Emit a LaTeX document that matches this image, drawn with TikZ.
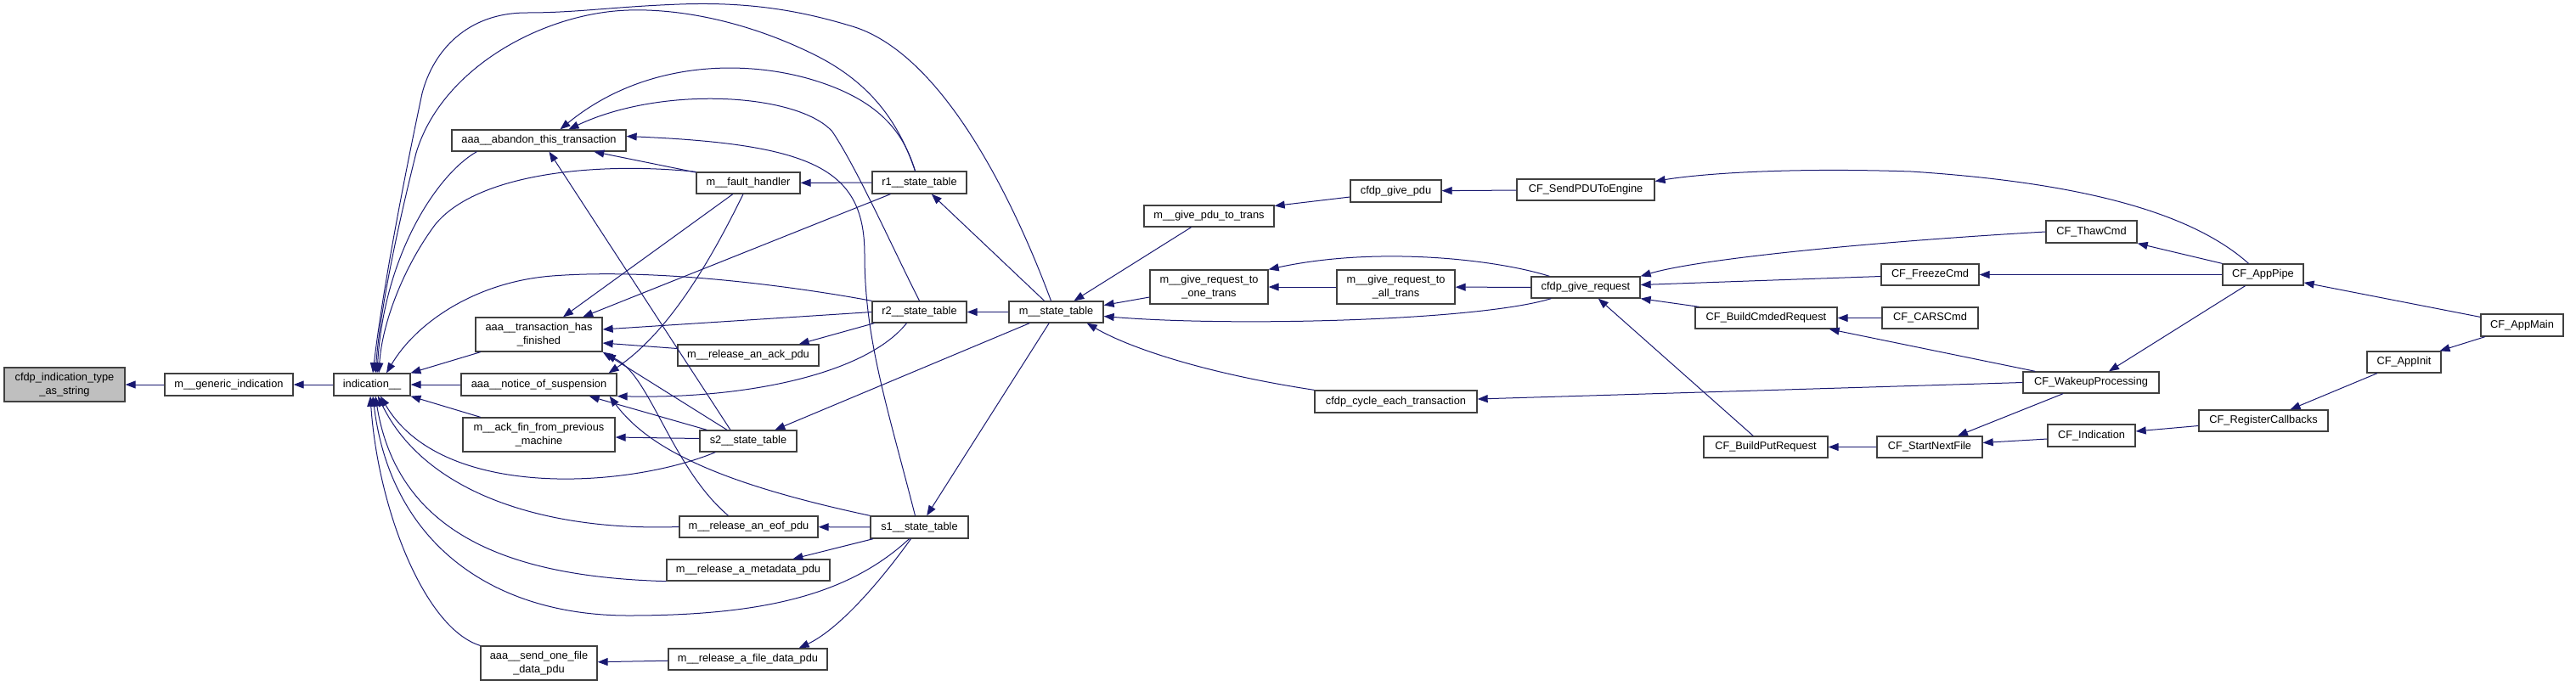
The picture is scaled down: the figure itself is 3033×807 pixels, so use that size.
\documentclass[tikz,border=0pt]{standalone}
\usepackage{fontspec}
\setmainfont{Liberation Sans}
\usetikzlibrary{arrows.meta}
\definecolor{edgec}{RGB}{25,25,112}
\definecolor{boxc}{RGB}{64,64,64}
\definecolor{grayfill}{RGB}{191,191,191}
\tikzset{
 box/.style={draw=boxc, line width=1.3pt, fill=white, inner sep=0pt, align=center, font=\fontsize{12.8}{15.5}\selectfont, text=black},
 edge/.style={draw=edgec, line width=1pt, -{Triangle[length=12pt,width=9pt]}}
}
\begin{document}
\begin{tikzpicture}[x=1pt,y=-1pt]
\useasboundingbox (0,0) rectangle (3033,807);
\node[box,fill=grayfill,minimum width=142pt,minimum height=40pt] (tstr) at (76,453) {cfdp\_indication\_type\\\_as\_string};
\node[box,minimum width=151pt,minimum height=26pt] (gen) at (269.5,453) {m\_\_generic\_indication};
\node[box,minimum width=90pt,minimum height=26pt] (ind) at (438,453) {indication\_\_};
\node[box,minimum width=205pt,minimum height=25pt] (aband) at (634.5,165.5) {aaa\_\_abandon\_this\_transaction};
\node[box,minimum width=122pt,minimum height=25pt] (fault) at (881,215.5) {m\_\_fault\_handler};
\node[box,minimum width=149pt,minimum height=40pt] (txfin) at (634.5,394) {aaa\_\_transaction\_has\\\_finished};
\node[box,minimum width=166pt,minimum height=25pt] (ackpdu) at (881,418.5) {m\_\_release\_an\_ack\_pdu};
\node[box,minimum width=183pt,minimum height=26pt] (notice) at (634.5,453) {aaa\_\_notice\_of\_suspension};
\node[box,minimum width=179pt,minimum height=40pt] (ackfin) at (634.5,512) {m\_\_ack\_fin\_from\_previous\\\_machine};
\node[box,minimum width=114pt,minimum height=25pt] (s2) at (881,519.5) {s2\_\_state\_table};
\node[box,minimum width=163pt,minimum height=25pt] (eof) at (881.5,620.5) {m\_\_release\_an\_eof\_pdu};
\node[box,minimum width=192pt,minimum height=25pt] (meta) at (881,671.5) {m\_\_release\_a\_metadata\_pdu};
\node[box,minimum width=137pt,minimum height=40pt] (sendone) at (634.5,781) {aaa\_\_send\_one\_file\\\_data\_pdu};
\node[box,minimum width=187pt,minimum height=25pt] (filedata) at (880.5,776.5) {m\_\_release\_a\_file\_data\_pdu};
\node[box,minimum width=111pt,minimum height=26pt] (r1) at (1082.5,215) {r1\_\_state\_table};
\node[box,minimum width=111pt,minimum height=25pt] (r2) at (1082.5,367.5) {r2\_\_state\_table};
\node[box,minimum width=111pt,minimum height=25pt] (mst) at (1243.5,367.5) {m\_\_state\_table};
\node[box,minimum width=153pt,minimum height=25pt] (gpdu) at (1423.5,254.5) {m\_\_give\_pdu\_to\_trans};
\node[box,minimum width=139pt,minimum height=40pt] (gone) at (1423.5,338) {m\_\_give\_request\_to\\\_one\_trans};
\node[box,minimum width=115pt,minimum height=26pt] (s1) at (1082.5,621) {s1\_\_state\_table};
\node[box,minimum width=107pt,minimum height=26pt] (cgpdu) at (1643.5,225) {cfdp\_give\_pdu};
\node[box,minimum width=162pt,minimum height=25pt] (send) at (1867,223.5) {CF\_SendPDUToEngine};
\node[box,minimum width=139pt,minimum height=40pt] (gall) at (1643.5,338) {m\_\_give\_request\_to\\\_all\_trans};
\node[box,minimum width=128pt,minimum height=25pt] (cgreq) at (1867,338.5) {cfdp\_give\_request};
\node[box,minimum width=191pt,minimum height=26pt] (cycle) at (1643.5,473) {cfdp\_cycle\_each\_transaction};
\node[box,minimum width=107pt,minimum height=26pt] (thaw) at (2462.5,273) {CF\_ThawCmd};
\node[box,minimum width=115pt,minimum height=25pt] (freeze) at (2272.5,323.5) {CF\_FreezeCmd};
\node[box,minimum width=167pt,minimum height=25pt] (bcmd) at (2079.5,374.5) {CF\_BuildCmdedRequest};
\node[box,minimum width=113pt,minimum height=25pt] (cars) at (2272.5,374.5) {CF\_CARSCmd};
\node[box,minimum width=160pt,minimum height=25pt] (wake) at (2462,450.5) {CF\_WakeupProcessing};
\node[box,minimum width=146pt,minimum height=25pt] (bput) at (2079,526.5) {CF\_BuildPutRequest};
\node[box,minimum width=124pt,minimum height=25pt] (snf) at (2272,526.5) {CF\_StartNextFile};
\node[box,minimum width=103pt,minimum height=26pt] (cfind) at (2462.5,513) {CF\_Indication};
\node[box,minimum width=95pt,minimum height=25pt] (pipe) at (2664.5,323.5) {CF\_AppPipe};
\node[box,minimum width=97pt,minimum height=26pt] (amain) at (2969.5,383) {CF\_AppMain};
\node[box,minimum width=87pt,minimum height=25pt] (ainit) at (2830.5,426.5) {CF\_AppInit};
\node[box,minimum width=152pt,minimum height=25pt] (regcb) at (2665,495.5) {CF\_RegisterCallbacks};

% left chain
\draw[edge] (gen) -- (tstr);
\draw[edge] (ind) -- (gen);
\draw[edge] (notice) -- (ind);
\draw[edge] (txfin) -- (ind);
\draw[edge] (ackfin) -- (ind);
% into indication from top
\draw[edge] ([xshift=-6pt]mst.north) .. controls (1195,240) and (1110,60) .. (1000,30) .. controls (940,12) and (880,2) .. (800,5) .. controls (720,8) and (680,15) .. (620,15) .. controls (550,15) and (510,60) .. (497,110) .. controls (480,190) and (452,330) .. ([xshift=1pt]ind.north);
\draw[edge] ([xshift=-5pt]r1.north) .. controls (1060,150) and (1030,100) .. (960,65) .. controls (880,25) and (800,10) .. (740,12) .. controls (640,15) and (520,80) .. (490,180) .. controls (470,260) and (448,360) .. ([xshift=4pt]ind.north);
\draw[edge] ([xshift=30pt]aband.south west) .. controls (515,205) and (452,300) .. ([xshift=6pt]ind.north);
\draw[edge] (fault.north west) .. controls (700,190) and (560,205) .. (512,265) .. controls (475,315) and (450,380) .. ([xshift=8pt]ind.north);
\draw[edge] (r2.north west) .. controls (950,340) and (780,315) .. (650,325) .. controls (560,332) and (490,380) .. ([xshift=17pt]ind.north);
% into indication from below
\draw[edge] ([xshift=19pt]s2.south west) .. controls (740,575) and (520,590) .. ([xshift=10pt]ind.south);
\draw[edge] (eof.west) .. controls (640,626) and (500,580) .. ([xshift=7pt]ind.south);
\draw[edge] (meta.south west) .. controls (620,680) and (470,640) .. ([xshift=4pt]ind.south);
\draw[edge] ([xshift=-12pt]s1.south) .. controls (1000,700) and (900,725) .. (740,725) .. controls (580,725) and (460,640) .. ([xshift=1pt]ind.south);
\draw[edge] (sendone.north west) .. controls (500,740) and (445,600) .. ([xshift=-2pt]ind.south);
% abandon
\draw[edge] (fault) -- (aband);
\draw[edge] ([xshift=-21pt]s2.north) -- ([xshift=12pt]aband.south);
\draw[edge] ([xshift=-5pt]r1.north) .. controls (1065,160) and (1040,120) .. (960,95) .. controls (880,70) and (760,70) .. ([xshift=25pt]aband.north);
\draw[edge] (r2.north) .. controls (1050,290) and (1010,200) .. (980,155) .. controls (940,110) and (780,100) .. ([xshift=35pt]aband.north);
\draw[edge] ([xshift=-5pt]s1.north) .. controls (1045,480) and (1018,400) .. (1018,300) .. controls (1018,200) and (960,170) .. ([yshift=5pt]aband.east);
% fault handler, transaction_has_finished, notice
\draw[edge] (fault) -- (txfin);
\draw[edge] ([xshift=-6pt]fault.south) .. controls (840,300) and (790,390) .. ([xshift=-10pt]notice.north east);
\draw[edge] (r1) -- (fault);
\draw[edge] (r1) -- (txfin);
\draw[edge] (r2.west) -- ([yshift=6pt]txfin.east);
\draw[edge] ([xshift=3pt]r2.south west) -- ([xshift=-24pt]ackpdu.north east);
\draw[edge] ([xshift=-15pt]r2.south) .. controls (1020,440) and (880,470) .. (notice.south east);
\draw[edge] ([yshift=8pt]ackpdu.west) -- ([yshift=-10pt]txfin.east);
\draw[edge] ([xshift=-25pt]s2.north) -- (txfin.south east);
\draw[edge] ([xshift=9pt]s2.north west) -- ([xshift=-33pt]notice.south east);
\draw[edge] ([yshift=3pt]s2.west) -- ([yshift=-3pt]ackfin.east);
\draw[edge] ([xshift=-24pt]eof.north) .. controls (790,550) and (765,440) .. ([xshift=3pt,yshift=-3pt]txfin.south east);
\draw[edge] (s1.north west) .. controls (850,570) and (765,530) .. ([xshift=-9pt]notice.south east);
\draw[edge] (s1) -- (eof);
\draw[edge] (s1) -- (meta);
\draw[edge] ([xshift=-10pt]s1.south) .. controls (1040,680) and (990,740) .. ([xshift=-34pt]filedata.north east);
\draw[edge] (filedata) -- (sendone);
% m__state_table
\draw[edge] (mst) -- (r2);
\draw[edge] (mst) -- (r1);
\draw[edge] (mst) -- (s2);
\draw[edge] (mst) -- (s1);
\draw[edge] (gpdu) -- (mst);
\draw[edge] ([yshift=-12pt]gone.west) -- ([yshift=8pt]mst.east);
\draw[edge] ([xshift=24pt]cgreq.south west) .. controls (1740,378) and (1450,385) .. ([yshift=-5pt]mst.east);
\draw[edge] (cycle.north west) .. controls (1420,440) and (1330,410) .. ([xshift=-20pt]mst.south east);
% middle
\draw[edge] ([yshift=-7pt]cgpdu.west) -- ([yshift=12pt]gpdu.east);
\draw[edge] (gall) -- (gone);
\draw[edge] ([xshift=22pt]cgreq.north west) .. controls (1760,305) and (1620,290) .. (gone.north east);
\draw[edge] (cgreq) -- (gall);
\draw[edge] (send) -- (cgpdu);
\draw[edge] ([xshift=-17pt]pipe.north) .. controls (2580,250) and (2450,215) .. (2250,202) .. controls (2100,197) and (2000,205) .. ([yshift=10pt]send.east);
\draw[edge] (thaw.west) .. controls (2200,285) and (2000,305) .. (cgreq.north east);
\draw[edge] ([yshift=-2pt]freeze.west) -- ([yshift=3pt]cgreq.east);
\draw[edge] ([xshift=5pt]bcmd.north west) -- (cgreq.south east);
\draw[edge] (bput) -- (cgreq);
\draw[edge] (cars) -- (bcmd);
\draw[edge] ([xshift=15pt]wake.north west) -- ([xshift=-10pt]bcmd.south east);
\draw[edge] (wake.west) -- ([yshift=3pt]cycle.east);
\draw[edge] (wake) -- (snf);
\draw[edge] (snf) -- (bput);
\draw[edge] ([yshift=-4pt]cfind.west) -- ([yshift=5pt]snf.east);
\draw[edge] ([yshift=-6pt]regcb.west) -- ([yshift=5pt]cfind.east);
\draw[edge] (ainit) -- (regcb);
\draw[edge] (amain) -- (ainit);
\draw[edge] (amain) -- (pipe);
\draw[edge] (pipe.north west) -- (thaw.south east);
\draw[edge] (pipe) -- (freeze);
\draw[edge] (pipe) -- (wake);
\end{tikzpicture}
\end{document}
